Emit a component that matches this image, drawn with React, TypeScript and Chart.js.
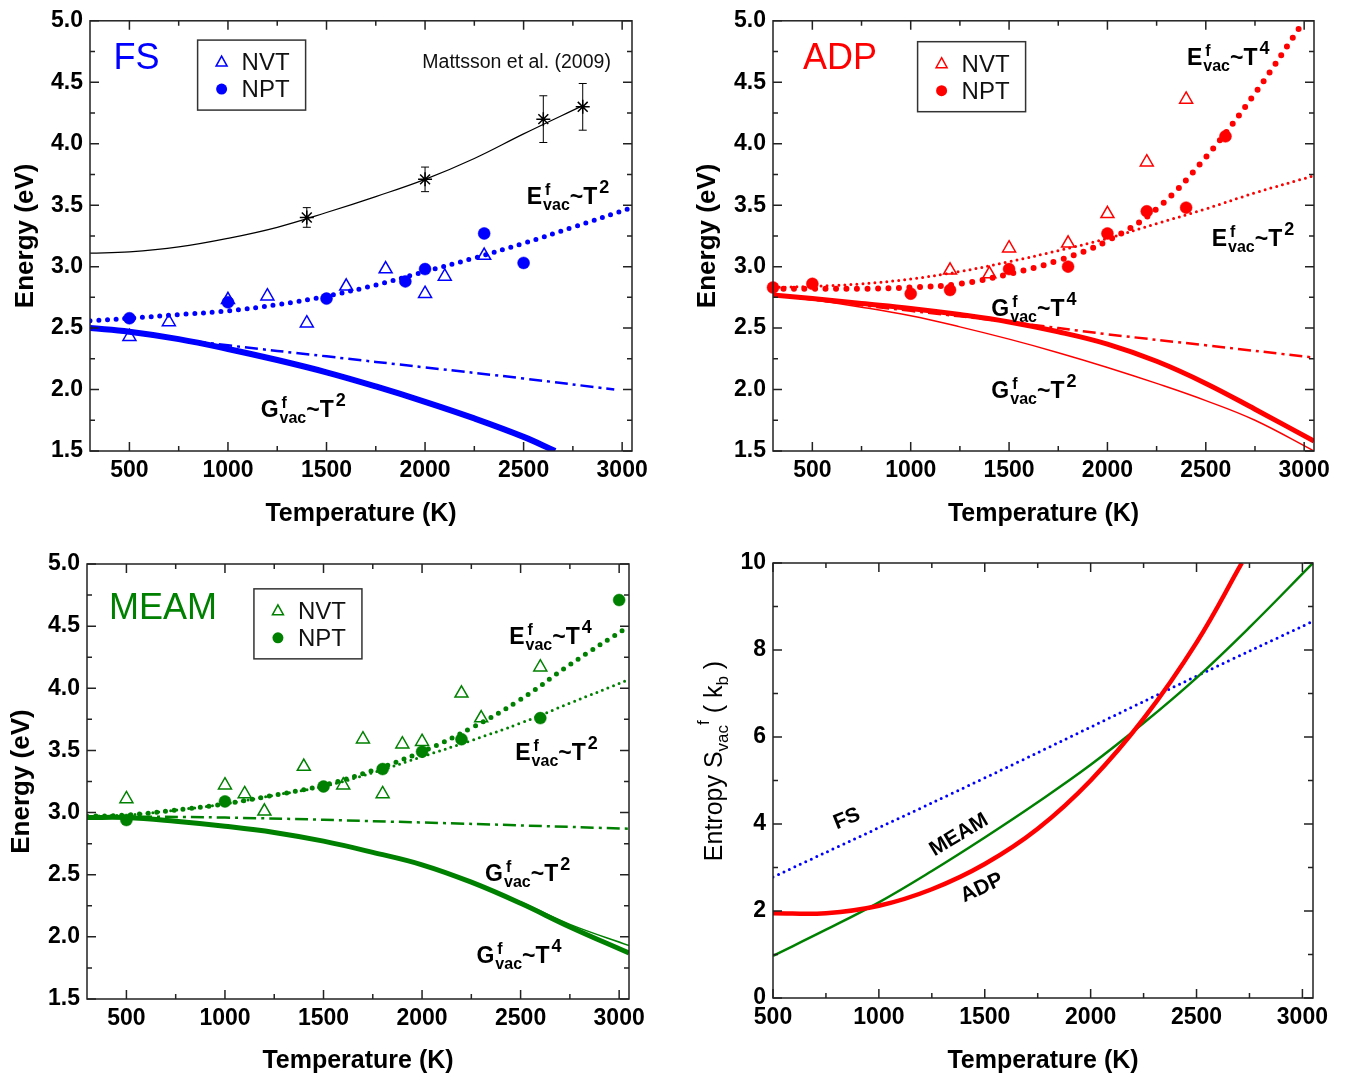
import React, { useEffect, useRef } from "react";
import { Chart, registerables } from "chart.js";

Chart.register(...registerables);

const FONT = "'Liberation Sans', Arial, Helvetica, sans-serif";
const BLUE = "#0000ff";
const RED = "#ff0000";
const GREEN = "#008000";

// ---------- tick values ----------
const T_MAJOR = [500, 1000, 1500, 2000, 2500, 3000];
const T_MINOR = [750, 1250, 1750, 2250, 2750];
const E_MAJOR = [1.5, 2.0, 2.5, 3.0, 3.5, 4.0, 4.5, 5.0];
const E_MINOR = [1.75, 2.25, 2.75, 3.25, 3.75, 4.25, 4.75];
const S_MAJOR = [0, 2, 4, 6, 8, 10];
const S_MINOR = [1, 3, 5, 7, 9];

// ---------- FS panel ----------
const FS_NVT_T = [500, 700, 1000, 1200, 1400, 1600, 1800, 2000, 2100, 2300];
const FS_NVT_E = [2.43, 2.55, 2.73, 2.76, 2.54, 2.84, 2.98, 2.78, 2.92, 3.09];
const FS_NPT_T = [500, 1000, 1500, 1900, 2000, 2300, 2500];
const FS_NPT_E = [2.58, 2.71, 2.74, 2.88, 2.98, 3.27, 3.03];
const MATT_T = [1400, 2000, 2600, 2800];
const MATT_E = [3.4, 3.71, 4.2, 4.3];
const MATT_ERR = [0.08, 0.1, 0.19, 0.19];
const MATT_FIT_T = [300, 500, 750, 1000, 1250, 1500, 1750, 2000, 2250, 2500, 2800];
const MATT_FIT_E = [3.11, 3.12, 3.16, 3.23, 3.32, 3.44, 3.57, 3.71, 3.88, 4.08, 4.31];
const FS_EV_T = [300, 500, 750, 1000, 1250, 1500, 1750, 2000, 2250, 2500, 2750, 3050];
const FS_EV = [2.56, 2.58, 2.61, 2.64, 2.69, 2.76, 2.85, 2.96, 3.07, 3.19, 3.32, 3.48];
const FS_GV_T = [300, 500, 750, 1000, 1250, 1500, 1750, 2000, 2250, 2500, 2660];
const FS_GV = [2.5, 2.47, 2.41, 2.33, 2.24, 2.14, 2.025, 1.9, 1.765, 1.615, 1.5];
const FS_GL_T = [300, 1000, 1500, 2000, 2500, 2960];
const FS_GL = [2.5, 2.36, 2.27, 2.18, 2.09, 2.0];

// ---------- ADP panel ----------
const ADP_NVT_T = [1200, 1400, 1500, 1800, 2000, 2200, 2400];
const ADP_NVT_E = [2.97, 2.94, 3.15, 3.19, 3.43, 3.85, 4.36];
const ADP_NPT_T = [300, 500, 1000, 1200, 1500, 1800, 2000, 2200, 2400, 2600];
const ADP_NPT_E = [2.83, 2.86, 2.78, 2.81, 2.98, 3.0, 3.27, 3.45, 3.48, 4.06];
const ADP_E4_T = [300, 500, 750, 1000, 1250, 1500, 1750, 2000, 2250, 2500, 2750, 3000];
const ADP_E4 = [2.82, 2.82, 2.82, 2.83, 2.86, 2.94, 3.05, 3.21, 3.47, 3.89, 4.41, 5.0];
const ADP_T = [300, 500, 750, 1000, 1250, 1500, 1750, 2000, 2250, 2500, 2750, 3050];
const ADP_E2 = [2.83, 2.84, 2.86, 2.9, 2.96, 3.04, 3.13, 3.23, 3.35, 3.47, 3.6, 3.74];
const ADP_G4 = [2.77, 2.74, 2.7, 2.66, 2.61, 2.55, 2.47, 2.37, 2.23, 2.05, 1.84, 1.58];
const ADP_G2 = [2.77, 2.73, 2.67, 2.6, 2.51, 2.41, 2.3, 2.18, 2.05, 1.91, 1.75, 1.5];
const ADP_GL_T = [300, 1000, 1500, 2000, 2500, 3050];
const ADP_GL = [2.77, 2.64, 2.55, 2.45, 2.36, 2.26];

// ---------- MEAM panel ----------
const MEAM_NVT_T = [500, 1000, 1100, 1200, 1400, 1600, 1700, 1800, 1900, 2000, 2200, 2300, 2600];
const MEAM_NVT_E = [3.11, 3.22, 3.15, 3.01, 3.37, 3.22, 3.59, 3.15, 3.55, 3.57, 3.96, 3.76, 4.17];
const MEAM_NPT_T = [500, 1000, 1500, 1800, 2000, 2200, 2600, 3000];
const MEAM_NPT_E = [2.94, 3.09, 3.21, 3.35, 3.49, 3.59, 3.76, 4.71];
const MEAM_T = [300, 500, 750, 1000, 1250, 1500, 1750, 2000, 2250, 2500, 2750, 3050];
const MEAM_E4 = [2.97, 2.98, 3.02, 3.07, 3.14, 3.22, 3.34, 3.49, 3.68, 3.91, 4.19, 4.5];
const MEAM_E2 = [2.97, 2.98, 3.02, 3.07, 3.14, 3.21, 3.32, 3.45, 3.58, 3.72, 3.88, 4.07];
const MEAM_G4 = [2.96, 2.96, 2.93, 2.89, 2.84, 2.77, 2.68, 2.58, 2.44, 2.27, 2.08, 1.87];
const MEAM_G2 = [2.96, 2.96, 2.93, 2.89, 2.84, 2.77, 2.68, 2.58, 2.44, 2.28, 2.1, 1.93];
const MEAM_GL_T = [300, 1000, 2000, 3050];
const MEAM_GL = [2.97, 2.96, 2.92, 2.87];

// ---------- Entropy panel ----------
const S_FS_T = [500, 1500, 2500, 3050];
const S_FS = [2.78, 5.06, 7.4, 8.66];
const S_MEAM_T = [500, 750, 1000, 1250, 1500, 1750, 2000, 2250, 2500, 2750, 3050];
const S_MEAM = [0.97, 1.57, 2.2, 2.92, 3.69, 4.5, 5.36, 6.32, 7.36, 8.52, 10.0];
const S_ADP_T = [500, 750, 1000, 1250, 1500, 1750, 2000, 2250, 2500, 2714];
const S_ADP = [1.95, 1.95, 2.12, 2.5, 3.08, 3.89, 5.0, 6.42, 8.17, 10.0];

const pts = (xs: number[], ys: number[]) => xs.map((x, i) => ({ x, y: ys[i] }));

function curve(xs: number[], ys: number[], color: string, width: number, kind: string) {
  const ds: any = {
    type: "line",
    data: pts(xs, ys),
    borderColor: color,
    backgroundColor: color,
    borderWidth: width,
    pointRadius: 0,
    pointHoverRadius: 0,
    showLine: true,
    fill: false,
    tension: 0.4,
    cubicInterpolationMode: "default",
    borderCapStyle: "butt",
  };
  if (kind === "dot") {
    ds.borderDash = [0, width * 1.75];
    ds.borderCapStyle = "round";
  } else if (kind === "dotThin") {
    ds.borderDash = [0, width * 2.0];
    ds.borderCapStyle = "round";
  } else if (kind === "dashdot") {
    ds.borderDash = [13, 5, 3, 5];
  }
  return ds;
}

function markers(xs: number[], ys: number[], color: string, style: string) {
  const tri = style === "triangle";
  return {
    type: "scatter",
    data: pts(xs, ys),
    pointStyle: style,
    pointRadius: tri ? 7.5 : 6,
    pointHoverRadius: tri ? 7.5 : 6,
    pointBackgroundColor: tri ? "rgba(255,255,255,0)" : color,
    pointBorderColor: color,
    pointBorderWidth: tri ? 1.5 : 0.5,
    showLine: false,
    clip: false,
  };
}

// ---------- text helpers ----------
function drawVac(ctx: CanvasRenderingContext2D, px: number, py: number, base: string, pow: string) {
  ctx.fillStyle = "#000";
  ctx.textAlign = "left";
  ctx.textBaseline = "alphabetic";
  ctx.font = `bold 23px ${FONT}`;
  ctx.fillText(base, px, py);
  let cx = px + ctx.measureText(base).width + 1;
  ctx.font = `bold 16px ${FONT}`;
  ctx.fillText("f", cx + 2, py - 9);
  ctx.fillText("vac", cx, py + 6);
  cx += ctx.measureText("vac").width;
  ctx.font = `bold 23px ${FONT}`;
  ctx.fillText("~T", cx, py);
  cx += ctx.measureText("~T").width + 2;
  ctx.font = `bold 18px ${FONT}`;
  ctx.fillText(pow, cx, py - 11);
}

function drawEntropyTitle(ctx: CanvasRenderingContext2D, cx: number, cy: number) {
  const segs = [
    { t: "Entropy S", s: 25, dy: 0 },
    { t: "vac", s: 17, dy: 6 },
    { t: "f", s: 17, dy: -13 },
    { t: " ( k", s: 25, dy: 0 },
    { t: "b", s: 17, dy: 6 },
    { t: " )", s: 25, dy: 0 },
  ];
  ctx.save();
  ctx.fillStyle = "#000";
  ctx.textBaseline = "alphabetic";
  ctx.textAlign = "left";
  let total = 0;
  const widths = segs.map((g) => {
    ctx.font = `${g.s}px ${FONT}`;
    const w = ctx.measureText(g.t).width;
    total += w;
    return w;
  });
  ctx.translate(cx, cy);
  ctx.rotate(-Math.PI / 2);
  let x = -total / 2;
  segs.forEach((g, i) => {
    ctx.font = `${g.s}px ${FONT}`;
    ctx.fillText(g.t, x, 9 + g.dy);
    x += widths[i];
  });
  ctx.restore();
}

function decorPlugin(spec: any) {
  return {
    id: "decor",
    afterDatasetsDraw(chart: any) {
      const { ctx } = chart;
      const xs = chart.scales.x;
      const ys = chart.scales.y;
      chart.data.datasets.forEach((ds: any) => {
        if (!ds.errors) return;
        ctx.save();
        ctx.strokeStyle = "#000";
        ctx.lineWidth = 1;
        ds.data.forEach((p: any, i: number) => {
          const e = ds.errors[i];
          const px = xs.getPixelForValue(p.x);
          const y1 = ys.getPixelForValue(p.y + e);
          const y2 = ys.getPixelForValue(p.y - e);
          ctx.beginPath();
          ctx.moveTo(px, y1);
          ctx.lineTo(px, y2);
          ctx.moveTo(px - 4, y1);
          ctx.lineTo(px + 4, y1);
          ctx.moveTo(px - 4, y2);
          ctx.lineTo(px + 4, y2);
          ctx.stroke();
        });
        ctx.restore();
      });
    },
    afterDraw(chart: any) {
      const { ctx, chartArea: a } = chart;
      const xs = chart.scales.x;
      const ys = chart.scales.y;
      ctx.save();
      ctx.strokeStyle = "#222";
      ctx.lineWidth = 1.5;
      ctx.strokeRect(a.left, a.top, a.right - a.left, a.bottom - a.top);
      const tick = (vals: number[], len: number, horiz: boolean) => {
        vals.forEach((v) => {
          ctx.beginPath();
          if (horiz) {
            const p = xs.getPixelForValue(v);
            ctx.moveTo(p, a.bottom);
            ctx.lineTo(p, a.bottom - len);
            ctx.moveTo(p, a.top);
            ctx.lineTo(p, a.top + len);
          } else {
            const p = ys.getPixelForValue(v);
            ctx.moveTo(a.left, p);
            ctx.lineTo(a.left + len, p);
            ctx.moveTo(a.right, p);
            ctx.lineTo(a.right - len, p);
          }
          ctx.stroke();
        });
      };
      tick(T_MAJOR, 9, true);
      tick(T_MINOR, 5, true);
      tick(spec.yMajor, 9, false);
      tick(spec.yMinor, 5, false);

      if (spec.name) {
        ctx.fillStyle = spec.name.color;
        ctx.font = `36px ${FONT}`;
        ctx.textAlign = "left";
        ctx.textBaseline = "alphabetic";
        ctx.fillText(spec.name.text, xs.getPixelForValue(spec.name.x), ys.getPixelForValue(spec.name.y));
      }
      (spec.notes || []).forEach((n: any) => {
        ctx.fillStyle = "#111";
        ctx.font = `${n.size}px ${FONT}`;
        ctx.textAlign = "left";
        ctx.textBaseline = "alphabetic";
        ctx.fillText(n.text, xs.getPixelForValue(n.x), ys.getPixelForValue(n.y));
      });
      if (spec.legend) {
        const lx = xs.getPixelForValue(spec.legend.x);
        const ly = ys.getPixelForValue(spec.legend.y);
        ctx.strokeStyle = "#333";
        ctx.lineWidth = 1.5;
        ctx.strokeRect(lx, ly, 108, 70);
        const c = spec.legend.color;
        const tx = lx + 24;
        const ty = ly + 22;
        ctx.beginPath();
        ctx.moveTo(tx, ty - 6);
        ctx.lineTo(tx + 5.5, ty + 4);
        ctx.lineTo(tx - 5.5, ty + 4);
        ctx.closePath();
        ctx.strokeStyle = c;
        ctx.lineWidth = 1.5;
        ctx.stroke();
        ctx.beginPath();
        ctx.arc(tx, ly + 49, 5.5, 0, Math.PI * 2);
        ctx.fillStyle = c;
        ctx.fill();
        ctx.fillStyle = "#111";
        ctx.font = `24px ${FONT}`;
        ctx.textAlign = "left";
        ctx.textBaseline = "alphabetic";
        ctx.fillText("NVT", lx + 44, ly + 30);
        ctx.fillText("NPT", lx + 44, ly + 57);
      }
      (spec.labels || []).forEach((l: any) => {
        drawVac(ctx, xs.getPixelForValue(l.x), ys.getPixelForValue(l.y), l.base, l.pow);
      });
      (spec.rotated || []).forEach((r: any) => {
        ctx.save();
        ctx.translate(xs.getPixelForValue(r.x), ys.getPixelForValue(r.y));
        ctx.rotate((r.angle * Math.PI) / 180);
        ctx.fillStyle = "#000";
        ctx.font = `bold 21px ${FONT}`;
        ctx.textAlign = "center";
        ctx.textBaseline = "middle";
        ctx.fillText(r.text, 0, 0);
        ctx.restore();
      });
      if (spec.entropyTitle) drawEntropyTitle(ctx, spec.entropyTitle.x, spec.entropyTitle.y);
      ctx.restore();
    },
  };
}

function buildConfig(spec: any) {
  const { box, plot } = spec;
  const tickFont = { family: FONT, size: 23, weight: "bold" as const };
  const titleFont = { family: FONT, size: 25, weight: "bold" as const, lineHeight: 1.2 };
  return {
    type: "scatter",
    data: { datasets: spec.datasets },
    options: {
      animation: false,
      responsive: false,
      maintainAspectRatio: false,
      devicePixelRatio: 1,
      events: [],
      layout: { padding: { left: 0, top: plot.top, right: box.width - plot.right, bottom: 0 } },
      plugins: { legend: { display: false }, tooltip: { enabled: false }, title: { display: false } },
      scales: {
        x: {
          type: "linear",
          position: "bottom",
          min: spec.xMin,
          max: spec.xMax,
          afterBuildTicks: (s: any) => {
            s.ticks = T_MAJOR.map((v) => ({ value: v }));
          },
          afterFit: (s: any) => {
            s.height = box.height - plot.bottom;
          },
          grid: { display: false, drawTicks: false },
          border: { display: false },
          ticks: {
            font: tickFont,
            color: "#000",
            padding: 6,
            autoSkip: false,
            maxRotation: 0,
            callback: (v: any) => String(v),
          },
          title: {
            display: true,
            text: "Temperature (K)",
            font: titleFont,
            color: "#000",
            padding: { top: 0, bottom: spec.xTitleOffset - 15 },
          },
        },
        y: {
          type: "linear",
          position: "left",
          min: spec.yMin,
          max: spec.yMax,
          afterBuildTicks: (s: any) => {
            s.ticks = spec.yMajor.map((v: number) => ({ value: v }));
          },
          afterFit: (s: any) => {
            s.width = plot.left;
          },
          grid: { display: false, drawTicks: false },
          border: { display: false },
          ticks: {
            font: tickFont,
            color: "#000",
            padding: 7,
            autoSkip: false,
            callback: (v: any) => spec.yFmt(v),
          },
          title: spec.yTitle
            ? {
                display: true,
                text: spec.yTitle,
                font: { family: FONT, size: 26, weight: "bold" as const, lineHeight: 1.2 },
                color: "#000",
                padding: { top: spec.yTitleOffset - 15.6, bottom: 0 },
              }
            : { display: false },
        },
      },
    },
    plugins: [decorPlugin(spec)],
  };
}

const energyFmt = (v: number) => v.toFixed(1);

const PANELS: any[] = [
  {
    key: "fs",
    box: { left: 0, top: 0, width: 677, height: 540 },
    plot: { left: 90, right: 632, top: 16, bottom: 451 },
    xMin: 300, xMax: 3050, yMin: 1.5, yMax: 5.0,
    yMajor: E_MAJOR, yMinor: E_MINOR, yFmt: energyFmt,
    xTitleOffset: 26, yTitle: "Energy (eV)", yTitleOffset: 26,
    datasets: [
      markers(FS_NPT_T, FS_NPT_E, BLUE, "circle"),
      markers(FS_NVT_T, FS_NVT_E, BLUE, "triangle"),
      { ...markers(MATT_T, MATT_E, "#000", "star"), pointRadius: 7, pointBorderWidth: 1.5, errors: MATT_ERR },
      curve(MATT_FIT_T, MATT_FIT_E, "#000", 1.2, "solid"),
      curve(FS_EV_T, FS_EV, BLUE, 5, "dot"),
      curve(FS_GV_T, FS_GV, BLUE, 6, "solid"),
      curve(FS_GL_T, FS_GL, BLUE, 2.5, "dashdot"),
    ],
    name: { text: "FS", color: BLUE, x: 419, y: 4.609 },
    notes: [{ text: "Mattsson et al. (2009)", x: 1986, y: 4.615, size: 19.5 }],
    legend: { x: 846, y: 4.843, color: BLUE },
    labels: [
      { base: "E", pow: "2", x: 2516, y: 3.506 },
      { base: "G", pow: "2", x: 1166, y: 1.773 },
    ],
  },
  {
    key: "adp",
    box: { left: 677, top: 0, width: 677, height: 540 },
    plot: { left: 96, right: 637, top: 17, bottom: 451 },
    xMin: 300, xMax: 3050, yMin: 1.5, yMax: 5.0,
    yMajor: E_MAJOR, yMinor: E_MINOR, yFmt: energyFmt,
    xTitleOffset: 26, yTitle: "Energy (eV)", yTitleOffset: 31,
    datasets: [
      markers(ADP_NPT_T, ADP_NPT_E, RED, "circle"),
      markers(ADP_NVT_T, ADP_NVT_E, RED, "triangle"),
      curve(ADP_E4_T, ADP_E4, RED, 6, "dot"),
      curve(ADP_T, ADP_E2, RED, 3, "dotThin"),
      curve(ADP_T, ADP_G4, RED, 5, "solid"),
      curve(ADP_T, ADP_G2, RED, 1.5, "solid"),
      curve(ADP_GL_T, ADP_GL, RED, 2.5, "dashdot"),
    ],
    name: { text: "ADP", color: RED, x: 452, y: 4.609 },
    legend: { x: 1035, y: 4.83, color: RED },
    labels: [
      { base: "E", pow: "4", x: 2404, y: 4.637 },
      { base: "E", pow: "2", x: 2530, y: 3.167 },
      { base: "G", pow: "4", x: 1410, y: 2.602 },
      { base: "G", pow: "2", x: 1410, y: 1.931 },
    ],
  },
  {
    key: "meam",
    box: { left: 0, top: 540, width: 677, height: 541 },
    plot: { left: 87, right: 629, top: 24, bottom: 459 },
    xMin: 300, xMax: 3050, yMin: 1.5, yMax: 5.0,
    yMajor: E_MAJOR, yMinor: E_MINOR, yFmt: energyFmt,
    xTitleOffset: 20, yTitle: "Energy (eV)", yTitleOffset: 22,
    datasets: [
      markers(MEAM_NPT_T, MEAM_NPT_E, GREEN, "circle"),
      markers(MEAM_NVT_T, MEAM_NVT_E, GREEN, "triangle"),
      curve(MEAM_T, MEAM_E4, GREEN, 5, "dot"),
      curve(MEAM_T, MEAM_E2, GREEN, 3, "dotThin"),
      curve(MEAM_T, MEAM_G4, GREEN, 5, "solid"),
      curve(MEAM_T, MEAM_G2, GREEN, 1.5, "solid"),
      curve(MEAM_GL_T, MEAM_GL, GREEN, 2.5, "dashdot"),
    ],
    name: { text: "MEAM", color: GREEN, x: 412, y: 4.554 },
    legend: { x: 1147, y: 4.8, color: GREEN },
    labels: [
      { base: "E", pow: "4", x: 2442, y: 4.36 },
      { base: "E", pow: "2", x: 2473, y: 3.425 },
      { base: "G", pow: "2", x: 2320, y: 2.446 },
      { base: "G", pow: "4", x: 2276, y: 1.793 },
    ],
  },
  {
    key: "entropy",
    box: { left: 677, top: 540, width: 677, height: 541 },
    plot: { left: 96, right: 636, top: 23, bottom: 458 },
    xMin: 500, xMax: 3050, yMin: 0, yMax: 10,
    yMajor: S_MAJOR, yMinor: S_MINOR, yFmt: (v: number) => String(v),
    xTitleOffset: 20, yTitle: null, yTitleOffset: 0,
    datasets: [
      curve(S_ADP_T, S_ADP, RED, 4.5, "solid"),
      curve(S_MEAM_T, S_MEAM, GREEN, 2.5, "solid"),
      curve(S_FS_T, S_FS, BLUE, 3, "dotThin"),
    ],
    rotated: [
      { text: "FS", x: 849, y: 4.115, angle: -22 },
      { text: "MEAM", x: 1378, y: 3.747, angle: -31 },
      { text: "ADP", x: 1487, y: 2.529, angle: -25 },
    ],
    entropyTitle: { x: 36, y: 221 },
  },
];

function Panel({ spec }: { spec: any }) {
  const ref = useRef<HTMLCanvasElement | null>(null);
  useEffect(() => {
    if (!ref.current) return;
    const chart = new Chart(ref.current, buildConfig(spec) as any);
    return () => chart.destroy();
  }, [spec]);
  const { box } = spec;
  return (
    <div style={{ position: "absolute", left: box.left, top: box.top, width: box.width, height: box.height }}>
      <canvas
        ref={ref}
        width={box.width}
        height={box.height}
        style={{ width: box.width, height: box.height, display: "block" }}
      />
    </div>
  );
}

export default function App() {
  return (
    <div
      style={{
        position: "absolute",
        left: 0,
        top: 0,
        width: 1354,
        height: 1081,
        background: "#fff",
        overflow: "hidden",
      }}
    >
      {PANELS.map((p) => (
        <Panel key={p.key} spec={p} />
      ))}
    </div>
  );
}
